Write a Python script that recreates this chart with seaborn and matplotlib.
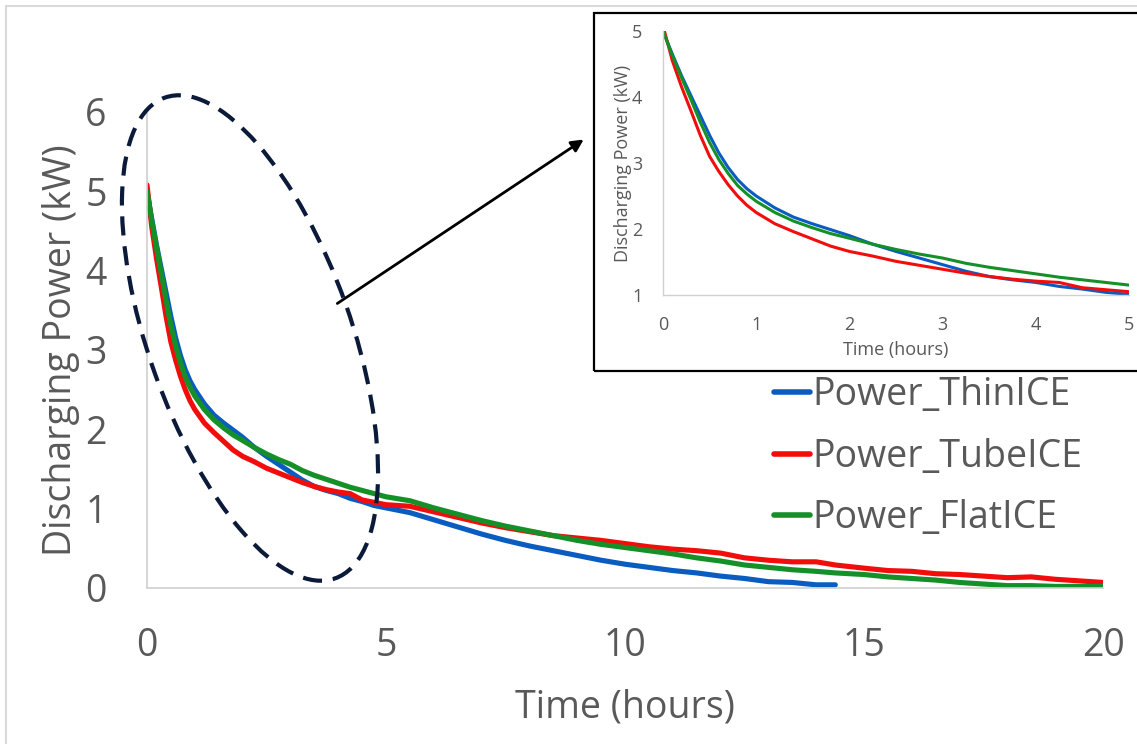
import numpy as np
import pandas as pd
import matplotlib
matplotlib.use("Agg")
import matplotlib.pyplot as plt
from matplotlib.patches import Ellipse, Rectangle, FancyArrowPatch
from matplotlib.transforms import IdentityTransform
import seaborn as sns

# Discharging power (kW) versus time (hours) for three ice-storage designs
time_h = [0, 0.1, 0.2, 0.3, 0.4, 0.5, 0.6, 0.7, 0.8, 0.9, 1.0, 1.2, 1.4, 1.6, 1.8,
          2.0, 2.25, 2.5, 2.75, 3.0, 3.25, 3.5, 3.75, 4.0, 4.25, 4.5, 4.75, 5.0,
          5.5, 6.0, 6.5, 7.0, 7.5, 8.0, 8.5, 9.0, 9.5, 10.0, 10.5, 11.0, 11.5, 12.0,
          12.5, 13.0, 13.5, 14.0, 14.4, 15.0, 15.5, 16.0, 16.5, 17.0, 17.5, 18.0,
          18.5, 19.0, 19.5, 20.0]

power_thin = [5.00, 4.65, 4.32, 4.02, 3.72, 3.42, 3.15, 2.93, 2.75, 2.61, 2.50, 2.32,
              2.18, 2.08, 1.99, 1.90, 1.77, 1.66, 1.56, 1.46, 1.36, 1.28, 1.23, 1.19,
              1.13, 1.09, 1.04, 1.01, 0.95, 0.86, 0.77, 0.68, 0.60, 0.53, 0.47, 0.41,
              0.35, 0.30, 0.26, 0.22, 0.19, 0.15, 0.12, 0.08, 0.07, 0.04, 0.04]

power_tube = [5.08, 4.55, 4.15, 3.79, 3.42, 3.10, 2.87, 2.67, 2.50, 2.36, 2.25, 2.08,
              1.96, 1.85, 1.74, 1.66, 1.59, 1.51, 1.45, 1.39, 1.33, 1.28, 1.24, 1.21,
              1.19, 1.11, 1.08, 1.05, 1.03, 0.96, 0.89, 0.82, 0.76, 0.71, 0.66, 0.63,
              0.60, 0.56, 0.52, 0.49, 0.47, 0.44, 0.38, 0.35, 0.33, 0.33, 0.29, 0.25,
              0.22, 0.21, 0.18, 0.17, 0.15, 0.13, 0.14, 0.11, 0.09, 0.07]

power_flat = [5.00, 4.63, 4.29, 3.96, 3.62, 3.31, 3.05, 2.84, 2.66, 2.53, 2.42, 2.25,
              2.12, 2.02, 1.93, 1.86, 1.77, 1.69, 1.62, 1.56, 1.48, 1.42, 1.37, 1.32,
              1.27, 1.23, 1.19, 1.15, 1.10, 1.01, 0.93, 0.85, 0.78, 0.72, 0.66, 0.60,
              0.55, 0.51, 0.47, 0.43, 0.38, 0.34, 0.29, 0.26, 0.23, 0.21, 0.19, 0.17,
              0.14, 0.12, 0.10, 0.07, 0.05, 0.03, 0.03, 0.02, 0.02, 0.02]

series_names = ["Power_ThinICE", "Power_TubeICE", "Power_FlatICE"]
series_colors = ["#0a5cc0", "#f20d0d", "#159028"]

frames = []
for name, vals in zip(series_names, [power_thin, power_tube, power_flat]):
    frames.append(pd.DataFrame({"Time": time_h[:len(vals)], "Power": vals, "Series": name}))
df = pd.concat(frames, ignore_index=True)

sns.set_style("white")
plt.rcParams["font.family"] = ["Open Sans", "DejaVu Sans"]
text_gray = "#595959"
spine_gray = "#d0d0d0"
palette = dict(zip(series_names, series_colors))

fig = plt.figure(figsize=(11.37, 7.44), dpi=100)

# Main chart
ax = fig.add_axes([147 / 1137, 156 / 744, 956 / 1137, 476 / 744])
sns.lineplot(data=df, x="Time", y="Power", hue="Series", palette=palette,
             linewidth=3.7, ax=ax, sort=False, estimator=None)
ax.set_xlim(0, 20)
ax.set_ylim(0, 6)
ax.set_xticks([0, 5, 10, 15, 20])
ax.set_yticks([0, 1, 2, 3, 4, 5, 6])
ax.tick_params(axis="x", length=0, labelsize=27, labelcolor=text_gray, pad=28)
ax.tick_params(axis="y", length=0, labelsize=27, labelcolor=text_gray, pad=29)
ax.set_xlabel("Time (hours)", fontsize=27, color=text_gray, labelpad=17)
ax.set_ylabel("Discharging Power (kW)", fontsize=27, color=text_gray, labelpad=4)
for side in ["top", "right"]:
    ax.spines[side].set_visible(False)
for side in ["left", "bottom"]:
    ax.spines[side].set_color(spine_gray)
    ax.spines[side].set_linewidth(1.2)

leg = ax.legend(loc="upper left", bbox_to_anchor=(774 / 1137, 1 - 376 / 744),
                bbox_transform=fig.transFigure, frameon=False, fontsize=27,
                handlelength=0.95, handletextpad=0.06, labelspacing=0.63,
                borderaxespad=0, borderpad=0)
for txt in leg.get_texts():
    txt.set_color(text_gray)
for line in leg.get_lines():
    line.set_linewidth(4.0)
    line.set_solid_capstyle("round")

# Zoomed view of the first five hours
axi = fig.add_axes([663 / 1137, 449 / 744, 466 / 1137, 264 / 744])
axi.set_facecolor("white")
sns.lineplot(data=df[df["Time"] <= 5.0], x="Time", y="Power", hue="Series",
             palette=palette, linewidth=2.2, ax=axi, legend=False,
             sort=False, estimator=None)
axi.set_xlim(0, 5)
axi.set_ylim(1, 5)
axi.set_xticks([0, 1, 2, 3, 4, 5])
axi.set_yticks([1, 2, 3, 4, 5])
axi.tick_params(axis="x", length=0, labelsize=13, labelcolor=text_gray, pad=15)
axi.tick_params(axis="y", length=0, labelsize=13, labelcolor=text_gray, pad=15)
axi.set_xlabel("Time (hours)", fontsize=13, color=text_gray, labelpad=5)
axi.set_ylabel("Discharging Power (kW)", fontsize=13, color=text_gray, labelpad=0)
for side in ["top", "right"]:
    axi.spines[side].set_visible(False)
for side in ["left", "bottom"]:
    axi.spines[side].set_color(spine_gray)
    axi.spines[side].set_linewidth(1.0)

px = IdentityTransform()

# Outer chart-area border and inset frame
fig.patches.append(Rectangle((6, -20), 1200, 758, transform=px, fill=False,
                             edgecolor="#d9d9d9", linewidth=1.5, zorder=5))
fig.patches.append(Rectangle((594, 373), 600, 358, transform=px, fill=False,
                             edgecolor="black", linewidth=1.6, zorder=5))

# Dashed ellipse around the early-time region and arrow to the inset
fig.patches.append(Ellipse((250, 406), width=203, height=510, angle=19.5,
                           transform=px, fill=False, edgecolor="#0c1a3a",
                           linewidth=3.0, linestyle=(0, (4.6, 2.6)), zorder=6))
fig.patches.append(FancyArrowPatch((335, 439), (586, 606), transform=px,
                                   arrowstyle="-|>", mutation_scale=18,
                                   color="black", linewidth=2.0, zorder=6))

fig.savefig("out.png", dpi=100)
